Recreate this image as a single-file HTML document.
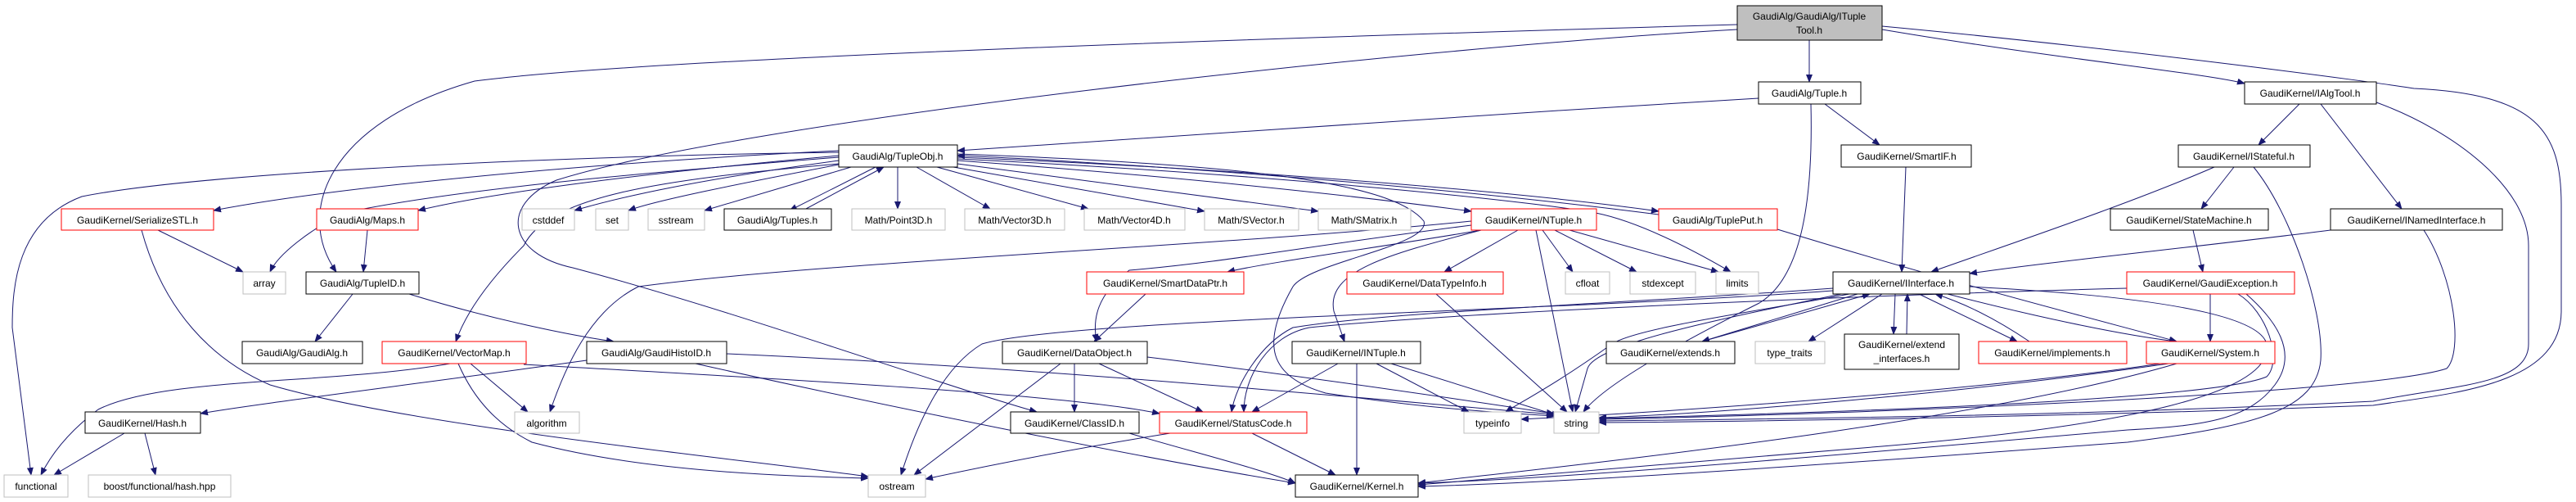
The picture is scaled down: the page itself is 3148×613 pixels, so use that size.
<!DOCTYPE html>
<html><head><meta charset="utf-8"><style>
html,body{margin:0;padding:0;background:#fff;}
svg{display:block;}
text{font-family:"Liberation Sans",sans-serif;font-size:12px;fill:#000;}
.e{fill:none;stroke:#191970;stroke-width:1;marker-end:url(#a);}
.k{fill:#fff;stroke:#000;stroke-width:1;}
.r{fill:#fff;stroke:#ff0000;stroke-width:1;}
.g{fill:#fff;stroke:#bfbfbf;stroke-width:1;}
</style></head><body>
<svg width="3148" height="613" viewBox="0 0 3148 613" xmlns="http://www.w3.org/2000/svg">
<defs><marker id="a" markerUnits="userSpaceOnUse" markerWidth="10" markerHeight="8" refX="9" refY="4" orient="auto"><path d="M0,0 L10,4 L0,8 z" fill="#191970"/></marker></defs>
<g>
<path class="e" d="M2211,49 L2211,100"/>
<path class="e" d="M2300,36 C2500,70 2700,90 2743,102"/>
<path class="e" d="M2300,32 C2600,60 2900,100 2950,108 C3100,115 3130,160 3130,250 L3130,380 C3130,470 3000,480 2900,495 C2500,510 2100,515 1954,516"/>
<path class="e" d="M2123,30 C1600,45 800,70 580,99 C400,150 360,260 411,332"/>
<path class="e" d="M2123,36 C1700,60 900,150 680,220 C610,250 620,310 700,327 C900,380 1150,470 1267,503"/>
<path class="e" d="M2149,120 C1800,140 1400,170 1170,184"/>
<path class="e" d="M2230,127 L2297,177"/>
<path class="e" d="M2213,127 C2216,250 2200,340 2150,370 C2050,420 1960,470 1935,503"/>
<path class="e" d="M2810,127 L2760,177"/>
<path class="e" d="M2836,127 L2935,255"/>
<path class="e" d="M2904,125 C3000,160 3090,230 3090,300 L3090,420 C3090,470 3000,470 2900,490 C2500,510 2100,512 1954,514"/>
<path class="e" d="M2329,204 L2324,332"/>
<path class="e" d="M2706,204 C2600,250 2450,300 2360,332"/>
<path class="e" d="M2730,204 L2690,255"/>
<path class="e" d="M2754,204 C2800,260 2840,380 2836,440 C2830,500 2760,520 2600,540 C2200,570 1900,590 1733,594"/>
<path class="e" d="M2680,281 L2692,332"/>
<path class="e" d="M2848,281 C2700,300 2500,320 2407,334"/>
<path class="e" d="M2962,281 C3000,340 3010,430 2990,450 C2900,480 2300,505 1954,512"/>
<path class="e" d="M2701,359 L2701,417"/>
<path class="e" d="M2599,352 C2300,360 1800,380 1600,400 C1550,410 1520,460 1520,503"/>
<path class="e" d="M2735,359 C2770,380 2790,440 2770,460 C2700,490 2200,505 1954,511"/>
<path class="e" d="M2745,359 C2780,390 2810,430 2780,470 C2750,510 2700,520 2600,525 C2200,560 1900,585 1733,590"/>
<path class="e" d="M2300,359 L2210,417"/>
<path class="e" d="M2316,359 L2314,408"/>
<path class="e" d="M2330,408 L2331,359"/>
<path class="e" d="M2480,417 C2440,390 2400,370 2365,359"/>
<path class="e" d="M2345,359 L2465,417"/>
<path class="e" d="M2380,359 C2500,390 2600,410 2660,417"/>
<path class="e" d="M2080,417 L2285,359"/>
<path class="e" d="M2270,359 L2080,417"/>
<path class="e" d="M2240,352 C2000,370 1700,380 1580,400 C1540,420 1510,470 1505,503"/>
<path class="e" d="M2240,355 C1900,380 1300,390 1200,420 C1150,450 1120,520 1101,580"/>
<path class="e" d="M2260,359 C2150,380 2000,400 1970,420 C1900,470 1860,490 1840,503"/>
<path class="e" d="M2250,359 C2100,390 1950,420 1940,450 L1925,503"/>
<path class="e" d="M2407,350 C2600,360 2760,380 2770,420 C2780,480 2600,520 2300,545 C2000,570 1800,585 1733,592"/>
<path class="e" d="M2650,444 C2400,480 2100,505 1954,510"/>
<path class="e" d="M2640,444 C2400,480 2000,505 1859,512"/>
<path class="e" d="M2660,444 C2400,520 1900,570 1733,590"/>
<path class="e" d="M2172,280 C2400,350 2600,400 2660,417"/>
<path class="e" d="M2027,262 C1700,220 1300,195 1170,190"/>
<path class="e" d="M1025,184 C700,200 400,230 261,257"/>
<path class="e" d="M1025,190 C800,210 600,235 511,257"/>
<path class="e" d="M1025,196 C850,220 760,240 702,257"/>
<path class="e" d="M1030,200 C900,225 800,245 768,257"/>
<path class="e" d="M1040,204 L861,257"/>
<path class="e" d="M1070,204 L965,257"/>
<path class="e" d="M985,255 L1080,204"/>
<path class="e" d="M1097,204 L1097,255"/>
<path class="e" d="M1120,204 L1210,255"/>
<path class="e" d="M1145,204 L1330,255"/>
<path class="e" d="M1165,204 L1472,258"/>
<path class="e" d="M1170,200 L1611,258"/>
<path class="e" d="M1170,196 C1500,220 1700,245 1798,258"/>
<path class="e" d="M1170,192 C1600,210 1900,240 2027,258"/>
<path class="e" d="M1025,186 C700,190 250,210 100,240 C20,270 15,350 15,400 L38,580"/>
<path class="e" d="M1025,192 C800,210 560,230 420,260 C380,280 340,310 330,332"/>
<path class="e" d="M1025,200 C800,220 670,240 640,300 C600,340 570,380 557,417"/>
<path class="e" d="M1170,194 C1600,215 1900,250 1950,260 C2000,270 2060,300 2115,332"/>
<path class="e" d="M1170,188 C1500,200 1700,220 1740,270 C1750,300 1600,320 1580,350 C1540,420 1550,460 1620,480 C1750,500 1850,505 1899,508"/>
<path class="e" d="M1810,281 C1700,300 1550,320 1500,332"/>
<path class="e" d="M1798,275 C1600,300 1500,320 1380,330 C1340,360 1335,390 1340,417"/>
<path class="e" d="M1855,281 L1765,332"/>
<path class="e" d="M1810,281 C1700,310 1620,330 1630,380 L1643,417"/>
<path class="e" d="M1885,281 L1922,332"/>
<path class="e" d="M1900,281 L2000,332"/>
<path class="e" d="M1918,281 L2100,332"/>
<path class="e" d="M1877,281 L1922,503"/>
<path class="e" d="M1798,270 C1500,300 1000,320 780,350 C720,380 690,450 672,503"/>
<path class="e" d="M1400,359 L1337,417"/>
<path class="e" d="M1755,359 L1915,503"/>
<path class="e" d="M1313,444 L1313,503"/>
<path class="e" d="M1343,444 L1470,503"/>
<path class="e" d="M1296,444 L1117,580"/>
<path class="e" d="M1402,436 C1600,460 1800,490 1899,505"/>
<path class="e" d="M717,440 C500,470 300,495 245,505"/>
<path class="e" d="M888,432 C1300,450 1700,490 1899,506"/>
<path class="e" d="M850,444 C1100,500 1400,560 1583,590"/>
<path class="e" d="M431,359 L385,417"/>
<path class="e" d="M500,359 C600,390 700,410 750,417"/>
<path class="e" d="M449,281 L444,332"/>
<path class="e" d="M193,281 L297,332"/>
<path class="e" d="M173,281 C200,380 260,440 330,470 C500,520 900,560 1061,582"/>
<path class="e" d="M550,444 C400,470 200,460 120,500 C80,530 60,560 50,580"/>
<path class="e" d="M575,444 L645,503"/>
<path class="e" d="M560,444 C580,490 610,520 650,540 C800,580 1000,582 1061,584"/>
<path class="e" d="M640,445 C900,460 1300,480 1417,505"/>
<path class="e" d="M152,529 L66,580"/>
<path class="e" d="M177,529 L190,580"/>
<path class="e" d="M1430,529 C1300,550 1200,570 1131,585"/>
<path class="e" d="M1530,529 L1632,580"/>
<path class="e" d="M1635,444 L1530,503"/>
<path class="e" d="M1658,444 L1658,580"/>
<path class="e" d="M1682,444 L1795,503"/>
<path class="e" d="M1700,444 L1905,508"/>
<path class="e" d="M1380,529 C1450,550 1550,575 1583,590"/>
</g>
<g text-anchor="middle">
<rect x="2123" y="7" width="177" height="42" fill="#bfbfbf" stroke="#000"/>
<text x="2211" y="24">GaudiAlg/GaudiAlg/ITuple</text><text x="2211" y="41">Tool.h</text>
<rect class="k" x="2149" y="100" width="125" height="27"/><text x="2211" y="118">GaudiAlg/Tuple.h</text>
<rect class="k" x="2743" y="100" width="161" height="27"/><text x="2823" y="118">GaudiKernel/IAlgTool.h</text>
<rect class="k" x="2250" y="177" width="159" height="27"/><text x="2330" y="195">GaudiKernel/SmartIF.h</text>
<rect class="k" x="2662" y="177" width="161" height="27"/><text x="2742" y="195">GaudiKernel/IStateful.h</text>
<rect class="k" x="1025" y="177" width="145" height="27"/><text x="1097" y="195">GaudiAlg/TupleObj.h</text>
<rect class="r" x="75" y="255" width="186" height="26"/><text x="168" y="273">GaudiKernel/SerializeSTL.h</text>
<rect class="r" x="387" y="255" width="124" height="26"/><text x="449" y="273">GaudiAlg/Maps.h</text>
<rect class="g" x="638" y="255" width="64" height="26"/><text x="670" y="273">cstddef</text>
<rect class="g" x="728" y="255" width="40" height="26"/><text x="748" y="273">set</text>
<rect class="g" x="792" y="255" width="69" height="26"/><text x="826" y="273">sstream</text>
<rect class="k" x="885" y="255" width="131" height="26"/><text x="950" y="273">GaudiAlg/Tuples.h</text>
<rect class="g" x="1041" y="255" width="114" height="26"/><text x="1098" y="273">Math/Point3D.h</text>
<rect class="g" x="1179" y="255" width="122" height="26"/><text x="1240" y="273">Math/Vector3D.h</text>
<rect class="g" x="1325" y="255" width="123" height="26"/><text x="1386" y="273">Math/Vector4D.h</text>
<rect class="g" x="1472" y="255" width="115" height="26"/><text x="1529" y="273">Math/SVector.h</text>
<rect class="g" x="1611" y="255" width="113" height="26"/><text x="1667" y="273">Math/SMatrix.h</text>
<rect class="r" x="1798" y="255" width="153" height="26"/><text x="1874" y="273">GaudiKernel/NTuple.h</text>
<rect class="r" x="2027" y="255" width="145" height="26"/><text x="2099" y="273">GaudiAlg/TuplePut.h</text>
<rect class="k" x="2579" y="255" width="193" height="26"/><text x="2675" y="273">GaudiKernel/StateMachine.h</text>
<rect class="k" x="2848" y="255" width="210" height="26"/><text x="2953" y="273">GaudiKernel/INamedInterface.h</text>
<rect class="g" x="297" y="332" width="52" height="27"/><text x="323" y="350">array</text>
<rect class="k" x="374" y="332" width="138" height="27"/><text x="443" y="350">GaudiAlg/TupleID.h</text>
<rect class="r" x="1328" y="332" width="192" height="27"/><text x="1424" y="350">GaudiKernel/SmartDataPtr.h</text>
<rect class="r" x="1646" y="332" width="191" height="27"/><text x="1741" y="350">GaudiKernel/DataTypeInfo.h</text>
<rect class="g" x="1913" y="332" width="54" height="27"/><text x="1940" y="350">cfloat</text>
<rect class="g" x="1992" y="332" width="80" height="27"/><text x="2032" y="350">stdexcept</text>
<rect class="g" x="2097" y="332" width="52" height="27"/><text x="2123" y="350">limits</text>
<rect class="k" x="2240" y="332" width="167" height="27"/><text x="2323" y="350">GaudiKernel/IInterface.h</text>
<rect class="r" x="2599" y="332" width="205" height="27"/><text x="2701" y="350">GaudiKernel/GaudiException.h</text>
<rect class="k" x="296" y="417" width="147" height="27"/><text x="369" y="435">GaudiAlg/GaudiAlg.h</text>
<rect class="r" x="467" y="417" width="176" height="27"/><text x="555" y="435">GaudiKernel/VectorMap.h</text>
<rect class="k" x="717" y="417" width="171" height="27"/><text x="802" y="435">GaudiAlg/GaudiHistoID.h</text>
<rect class="k" x="1225" y="417" width="177" height="27"/><text x="1313" y="435">GaudiKernel/DataObject.h</text>
<rect class="k" x="1579" y="417" width="157" height="27"/><text x="1657" y="435">GaudiKernel/INTuple.h</text>
<rect class="k" x="1963" y="417" width="157" height="27"/><text x="2041" y="435">GaudiKernel/extends.h</text>
<rect class="g" x="2145" y="417" width="85" height="27"/><text x="2187" y="435">type_traits</text>
<rect class="k" x="2254" y="408" width="140" height="43"/><text x="2324" y="425">GaudiKernel/extend</text><text x="2324" y="442">_interfaces.h</text>
<rect class="r" x="2418" y="417" width="181" height="27"/><text x="2508" y="435">GaudiKernel/implements.h</text>
<rect class="r" x="2623" y="417" width="157" height="27"/><text x="2701" y="435">GaudiKernel/System.h</text>
<rect class="k" x="104" y="503" width="141" height="26"/><text x="174" y="521">GaudiKernel/Hash.h</text>
<rect class="g" x="629" y="503" width="79" height="26"/><text x="668" y="521">algorithm</text>
<rect class="k" x="1235" y="503" width="157" height="26"/><text x="1313" y="521">GaudiKernel/ClassID.h</text>
<rect class="r" x="1417" y="503" width="180" height="26"/><text x="1507" y="521">GaudiKernel/StatusCode.h</text>
<rect class="g" x="1789" y="503" width="70" height="26"/><text x="1824" y="521">typeinfo</text>
<rect class="g" x="1899" y="503" width="55" height="26"/><text x="1926" y="521">string</text>
<rect class="g" x="5" y="580" width="78" height="27"/><text x="44" y="598">functional</text>
<rect class="g" x="108" y="580" width="174" height="27"/><text x="195" y="598">boost/functional/hash.hpp</text>
<rect class="g" x="1061" y="580" width="70" height="27"/><text x="1096" y="598">ostream</text>
<rect class="k" x="1583" y="580" width="150" height="27"/><text x="1658" y="598">GaudiKernel/Kernel.h</text>
</g>
</svg>
</body></html>
